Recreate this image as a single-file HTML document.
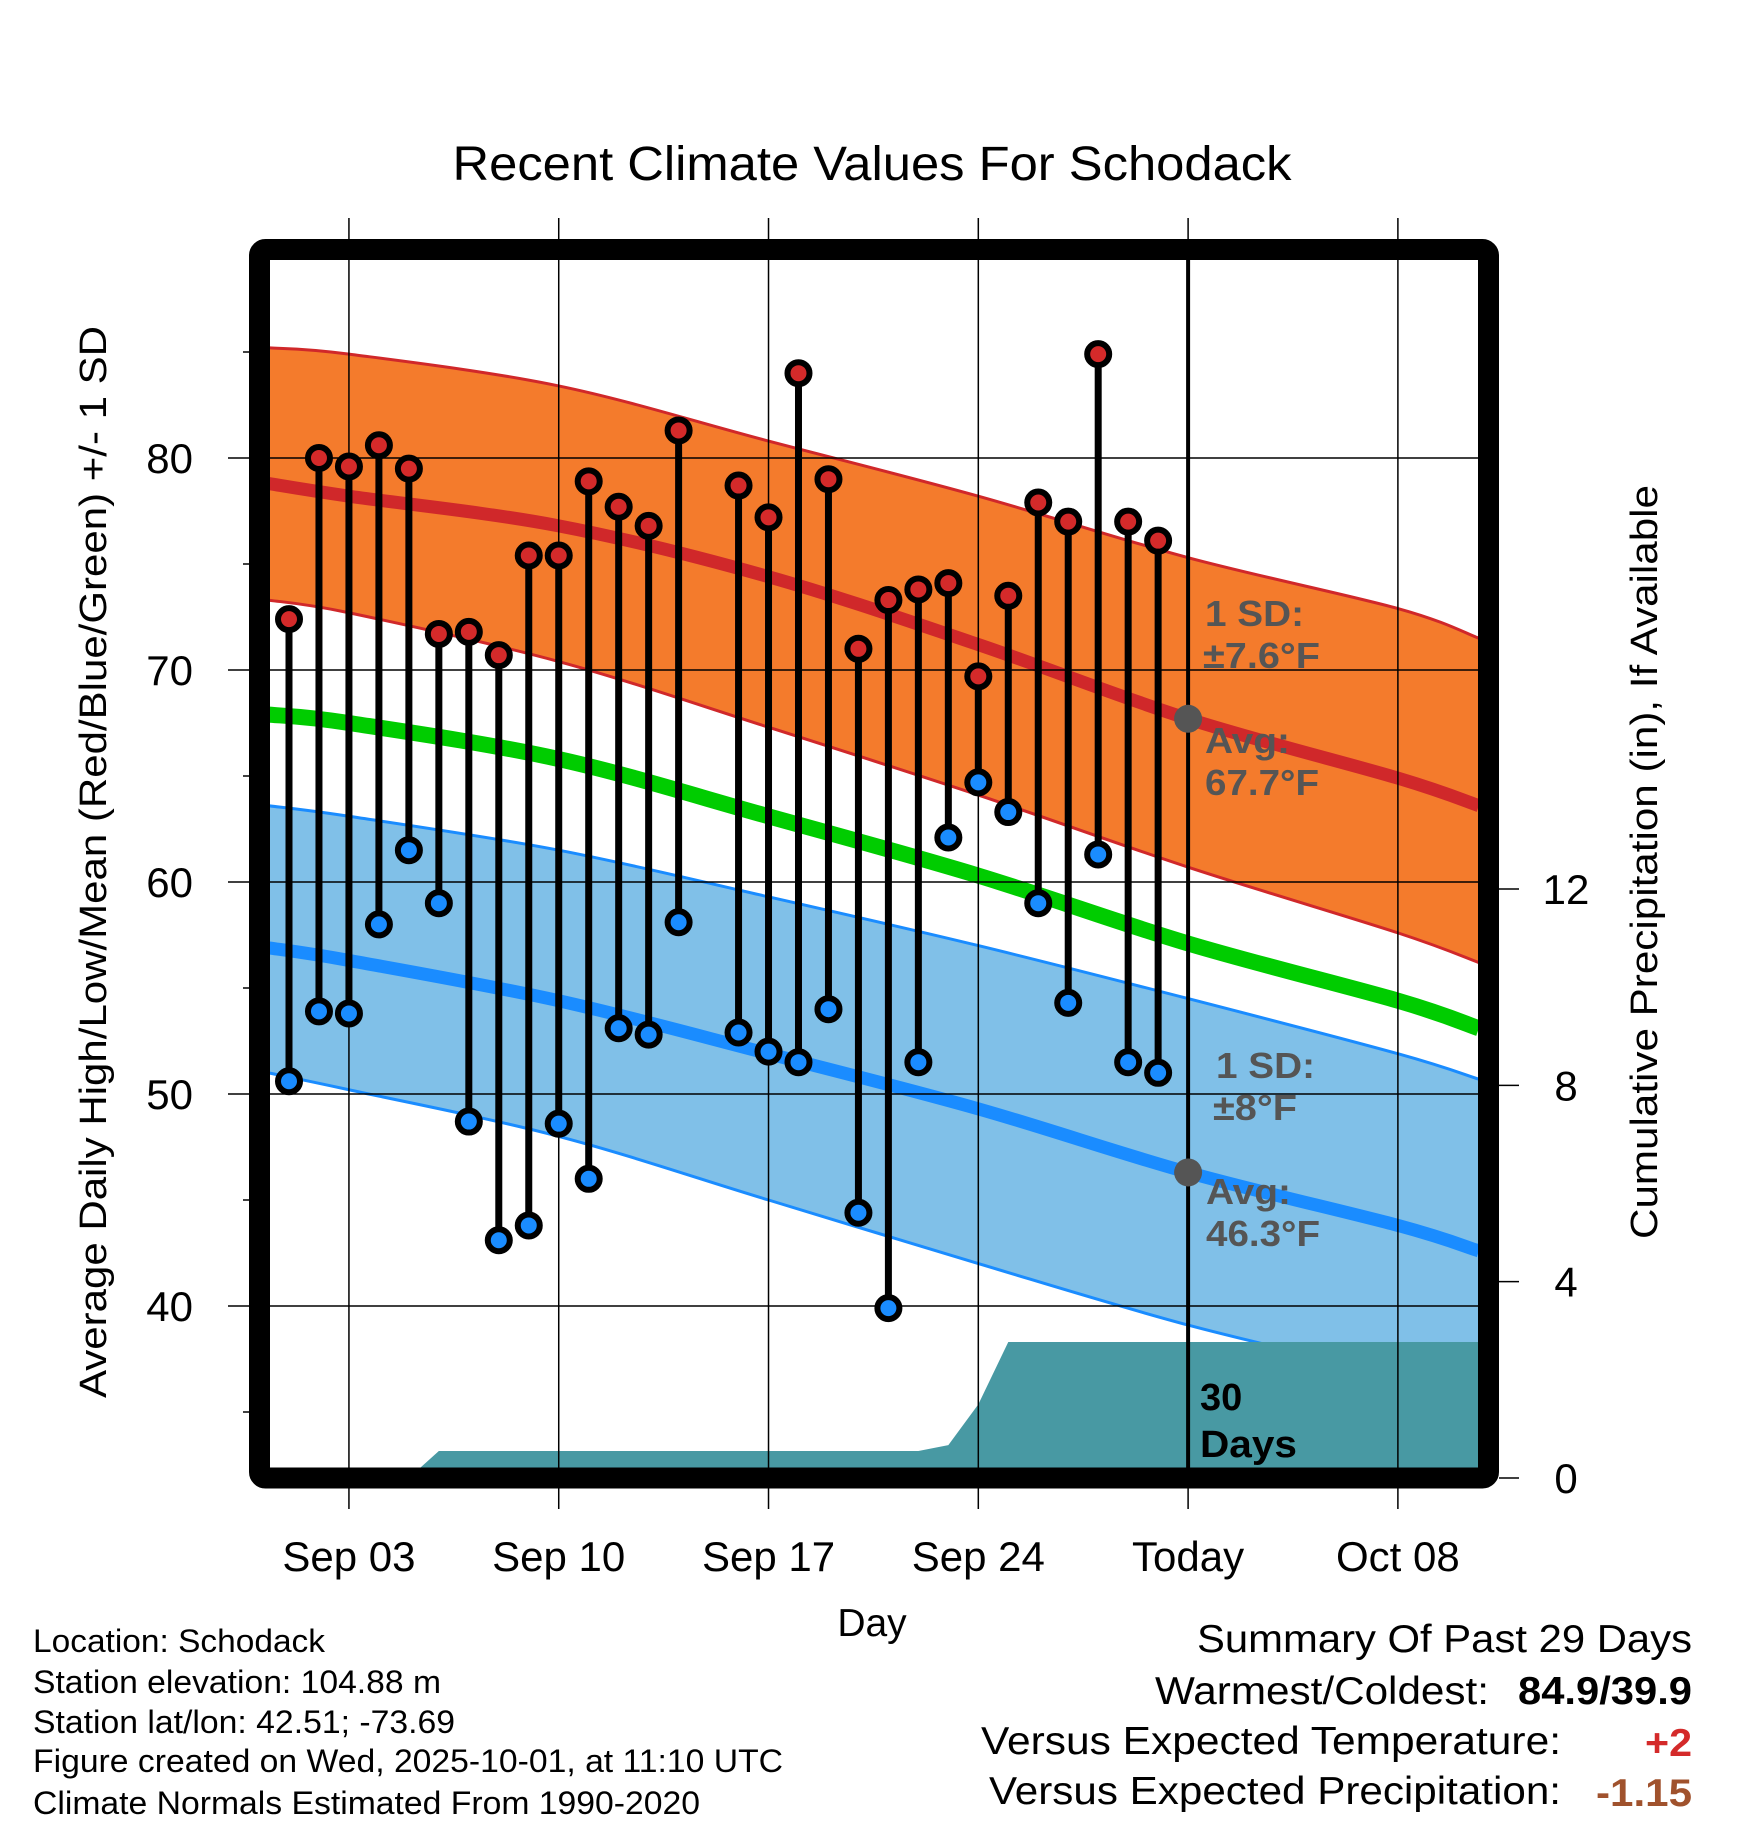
<!DOCTYPE html>
<html><head><meta charset="utf-8"><style>
html,body{margin:0;padding:0;background:#fff}
svg{display:block;font-family:"Liberation Sans",Arial,sans-serif}
</style></head><body>
<svg id="chart" width="1748" height="1828" viewBox="0 0 1748 1828" xmlns="http://www.w3.org/2000/svg">
<defs><clipPath id="plotclip"><rect x="270" y="260" width="1208" height="1208"/></clipPath></defs>
<text x="872" y="180" font-size="48" text-anchor="middle" textLength="839" lengthAdjust="spacingAndGlyphs">Recent Climate Values For Schodack</text>
<g id="plot" clip-path="url(#plotclip)"></g>
<g id="axes"></g>
<text x="872" y="1636" font-size="39" text-anchor="middle">Day</text>
<text transform="translate(106,862) rotate(-90)" font-size="38" text-anchor="middle" textLength="1072" lengthAdjust="spacingAndGlyphs">Average Daily High/Low/Mean (Red/Blue/Green) +/- 1 SD</text>
<text transform="translate(1657,862) rotate(-90)" font-size="38" text-anchor="middle" textLength="754" lengthAdjust="spacingAndGlyphs">Cumulative Precipitation (in), If Available</text>
<g font-size="32" lengthAdjust="spacingAndGlyphs">
<text x="33" y="1652" textLength="292" lengthAdjust="spacingAndGlyphs">Location: Schodack</text>
<text x="33" y="1693" textLength="408" lengthAdjust="spacingAndGlyphs">Station elevation: 104.88 m</text>
<text x="33" y="1733" textLength="422" lengthAdjust="spacingAndGlyphs">Station lat/lon: 42.51; -73.69</text>
<text x="33" y="1772" textLength="750" lengthAdjust="spacingAndGlyphs">Figure created on Wed, 2025-10-01, at 11:10 UTC</text>
<text x="33" y="1814" textLength="667" lengthAdjust="spacingAndGlyphs">Climate Normals Estimated From 1990-2020</text>
</g>
<g font-size="39">
<text x="1197" y="1652" textLength="495" lengthAdjust="spacingAndGlyphs">Summary Of Past 29 Days</text>
<text x="1155" y="1704" textLength="334" lengthAdjust="spacingAndGlyphs">Warmest/Coldest:</text>
<text x="1518" y="1704" font-weight="bold" textLength="174" lengthAdjust="spacingAndGlyphs">84.9/39.9</text>
<text x="981" y="1754" textLength="580" lengthAdjust="spacingAndGlyphs">Versus Expected Temperature:</text>
<text x="1645" y="1756" font-weight="bold" fill="#d42a2a" textLength="47" lengthAdjust="spacingAndGlyphs">+2</text>
<text x="989" y="1804" textLength="572" lengthAdjust="spacingAndGlyphs">Versus Expected Precipitation:</text>
<text x="1596" y="1806" font-weight="bold" fill="#a0522d" textLength="96" lengthAdjust="spacingAndGlyphs">-1.15</text>
</g>
</svg>
<script>
// days from Sep 1 (index 0)
const obsDays = [0,1,2,3,4,5,6,7,8,9,10,11,12,13,15,16,17,18,19,20,21,22,23,24,25,26,27,28,29];
const highs = [72.4,80.0,79.6,80.6,79.5,71.7,71.8,70.7,75.4,75.4,78.9,77.7,76.8,81.3,78.7,77.2,84.0,79.0,71.0,73.3,73.8,74.1,69.7,73.5,77.9,77.0,84.9,77.0,76.1];
const lows = [50.6,53.9,53.8,58.0,61.5,59.0,48.7,43.1,43.8,48.6,46.0,53.1,52.8,58.1,52.9,52.0,51.5,54.0,44.4,39.9,51.5,62.1,64.7,63.3,59.0,54.3,61.3,51.5,51.0];
const normDays = [-0.7,2,9,16,23,30,37,39.7];
const hiUpper = [85.2,84.9,83.4,80.8,78.2,75.3,72.9,71.5];
const hiMean = [78.8,78.2,76.8,74.4,71.2,67.7,64.9,63.6];
const hiLower = [73.3,72.7,70.4,67.3,64.1,60.7,57.6,56.2];
const meanTemp = [67.9,67.5,65.8,63.1,60.3,57.1,54.4,53.1];
const loUpper = [63.6,63.1,61.5,59.3,57.0,54.5,51.9,50.7];
const loMean = [56.9,56.3,54.4,51.9,49.3,46.3,43.8,42.6];
const loLower = [51.0,50.2,48.0,45.0,42.0,39.1,36.7,35.6];
const precipDays = [0,1,2,3,4,5,6,7,8,9,10,11,12,13,14,15,16,17,18,19,20,21,22,23,24,25,26,27,28,29,39.7];
const precipCum = [0,0,0,0,0,0.55,0.55,0.55,0.55,0.55,0.55,0.55,0.55,0.55,0.55,0.55,0.55,0.55,0.55,0.55,0.55,0.55,0.67,1.5,2.77,2.77,2.77,2.77,2.77,2.77,2.77];
const xTickDays = [2,9,16,23,30,37];
const xTickLabels = ["Sep 03","Sep 10","Sep 17","Sep 24","Today","Oct 08"];
const yTicks = [40,50,60,70,80];
const yMinor = [35,45,55,65,75,85];
const pTicks = [0,4,8,12];

const NS="http://www.w3.org/2000/svg";
const xOf=d=>289+d*29.97;
const yT=t=>458+(80-t)*21.2;
const yP=p=>1478-p*49.08;
const plot=document.getElementById('plot'), axes=document.getElementById('axes');
function mk(tag,attrs,parent){const e=document.createElementNS(NS,tag);for(const k in attrs)e.setAttribute(k,attrs[k]);parent.appendChild(e);return e;}
// smooth Catmull-Rom path through the normal points
function smooth(pts,move){let s=move?('M'+pts[0][0]+','+pts[0][1]):('L'+pts[0][0]+','+pts[0][1]);
 for(let i=0;i<pts.length-1;i++){const p0=pts[Math.max(0,i-1)],p1=pts[i],p2=pts[i+1],p3=pts[Math.min(pts.length-1,i+2)];
  const c1=[p1[0]+(p2[0]-p0[0])/6,p1[1]+(p2[1]-p0[1])/6],c2=[p2[0]-(p3[0]-p1[0])/6,p2[1]-(p3[1]-p1[1])/6];
  s+='C'+c1[0]+','+c1[1]+' '+c2[0]+','+c2[1]+' '+p2[0]+','+p2[1];}
 return s;}
const ptsOf=arr=>normDays.map((d,i)=>[xOf(d),yT(arr[i])]);
function bandPath(up,lo){return smooth(ptsOf(up),true)+smooth(ptsOf(lo).reverse(),false)+'Z';}

let e;
e=mk('path',{d:bandPath(hiUpper,hiLower),fill:'#f47b2c'},plot);

e=mk('path',{d:bandPath(loUpper,loLower),fill:'#80c0e8'},plot);

[[hiUpper,'#d0282a',3,'high-upper-edge'],[hiLower,'#d0282a',3,'high-lower-edge'],[loUpper,'#1a8cff',3,'low-upper-edge'],[loLower,'#1a8cff',3,'low-lower-edge'],[hiMean,'#d0282a',13,'normal-high-line'],[meanTemp,'#00cc00',16,'normal-mean-line'],[loMean,'#1a8cff',13,'normal-low-line']].forEach(a=>{
 e=mk('path',{d:smooth(ptsOf(a[0]),true),fill:'none',stroke:a[1],'stroke-width':a[2]},plot);
 
});
// precip
let ps='M'+xOf(precipDays[0])+','+yP(0);
precipDays.forEach((d,i)=>{ps+='L'+xOf(d)+','+yP(precipCum[i]);});
ps+='L'+xOf(precipDays[precipDays.length-1])+','+yP(0)+'Z';
e=mk('path',{d:ps,fill:'#4899a3'},plot);

// gridlines
yTicks.forEach(t=>{e=mk('line',{x1:228,x2:1478,y1:yT(t),y2:yT(t),stroke:'#000','stroke-width':1.5},axes);
 });
xTickDays.forEach(d=>{e=mk('line',{x1:xOf(d),x2:xOf(d),y1:218,y2:1509,stroke:'#000','stroke-width':1.5},axes);
 });
yMinor.forEach(t=>{e=mk('line',{x1:243,x2:252,y1:yT(t),y2:yT(t),stroke:'#000','stroke-width':1.5},axes);
 });
// annotations
const lab=mk('g',{'font-size':'36','font-weight':'bold',fill:'#555'},axes);
[['1 SD:',1205,626,99],['\u00b17.6\u00b0F',1203,668,117],['Avg:',1205,753,85],['67.7\u00b0F',1205,795,114],['1 SD:',1216,1078,99],['\u00b18\u00b0F',1213,1120,84],['Avg:',1206,1204,85],['46.3\u00b0F',1206,1246,114]].forEach(a=>{
 e=mk('text',{x:a[1],y:a[2],textLength:a[3],lengthAdjust:'spacingAndGlyphs'},lab);e.textContent=a[0];
 });
// stems and markers
obsDays.forEach((d,i)=>{
 e=mk('line',{x1:xOf(d),x2:xOf(d),y1:yT(highs[i]),y2:yT(lows[i]),stroke:'#000','stroke-width':7},axes);
 
});
obsDays.forEach((d,i)=>{
 e=mk('circle',{cx:xOf(d),cy:yT(highs[i]),r:11,fill:'#d42a2a',stroke:'#000','stroke-width':6},axes);
 
 e=mk('circle',{cx:xOf(d),cy:yT(lows[i]),r:11,fill:'#1a8cff',stroke:'#000','stroke-width':6},axes);
 
});
// today line
e=mk('line',{x1:xOf(30),x2:xOf(30),y1:256,y2:1470,stroke:'#000','stroke-width':4},axes);

e=mk('circle',{cx:xOf(30),cy:yT(67.7),r:14,fill:'#555'},axes);

e=mk('circle',{cx:xOf(30),cy:yT(46.3),r:14,fill:'#555'},axes);

const dl=mk('g',{'font-size':'38','font-weight':'bold',fill:'#000'},axes);
e=mk('text',{x:1200,y:1410},dl);e.textContent='30';

e=mk('text',{x:1200,y:1457,textLength:97,lengthAdjust:'spacingAndGlyphs'},dl);e.textContent='Days';

// frame
e=mk('rect',{x:259.5,y:249.5,width:1229,height:1228.5,rx:6,fill:'none',stroke:'#000','stroke-width':21},axes);

// tick labels
yTicks.forEach(t=>{e=mk('text',{x:193,y:yT(t)+15,'font-size':'42','text-anchor':'end'},axes);e.textContent=t;
 });
xTickDays.forEach((d,i)=>{e=mk('text',{x:xOf(d),y:1571,'font-size':'42','text-anchor':'middle'},axes);e.textContent=xTickLabels[i];
 });
pTicks.forEach(p=>{e=mk('line',{x1:1499,x2:1519,y1:yP(p),y2:yP(p),stroke:'#000','stroke-width':1.5},axes);
 
 e=mk('text',{x:1566,y:yP(p)+15,'font-size':'42','text-anchor':'middle'},axes);e.textContent=p;
 });
</script>
</body></html>
